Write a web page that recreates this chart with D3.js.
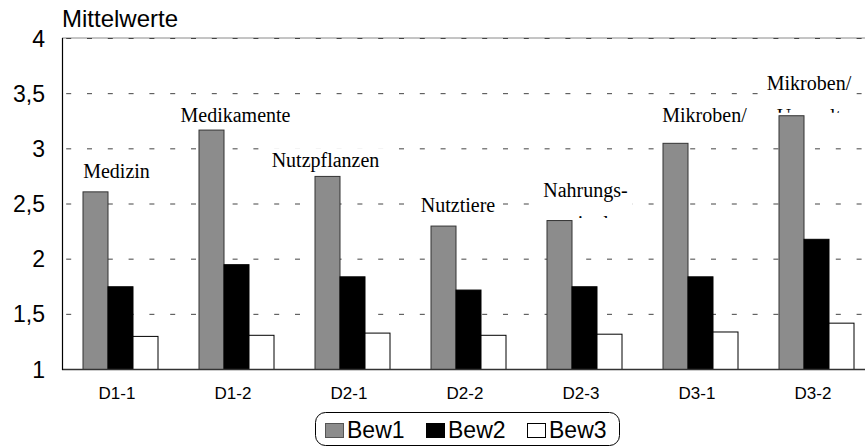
<!DOCTYPE html>
<meta charset="utf-8">
<head>
<style>
body { margin: 0; background: #fff; }
svg { display: block; font-family: Arial, "Liberation Sans", sans-serif; }
.grid line { stroke: #444; stroke-dasharray: 5 15.8; stroke-dashoffset: 16.6; }
.note text { font-family: "Liberation Serif", "Times New Roman", serif; font-size: 20px; fill: #000; }
</style>
</head>
<body>
<svg></svg>
<script src="https://cdnjs.cloudflare.com/ajax/libs/d3/7.8.5/d3.min.js"></script>
<script>
// data
var categories = ["D1-1", "D1-2", "D2-1", "D2-2", "D2-3", "D3-1", "D3-2"];
var seriesNames = ["Bew1", "Bew2", "Bew3"];
var bew1 = [2.61, 3.17, 2.75, 2.30, 2.35, 3.05, 3.30];
var bew2 = [1.75, 1.95, 1.84, 1.72, 1.75, 1.84, 2.18];
var bew3 = [1.30, 1.31, 1.33, 1.31, 1.32, 1.34, 1.42];
var yTicks = [1, 1.5, 2, 2.5, 3, 3.5, 4];

// text boxes above the groups (second lines are mostly cut off in the original)
var noteLines = [["Medizin"], ["Medikamente"], ["Nutzpflanzen"], ["Nutztiere"],
                 ["Nahrungs-", "mittel"], ["Mikroben/", "Pflanzen"], ["Mikroben/", "Umwelt"]];
var noteAt = [2.73, 3.24, 2.83, 2.42, 2.56, 3.24, 3.53];
var noteShift = [-3.5, -0.5, -26.5, -10, 1.5, 4.5, -7];
var noteCut = [6, 6, 6, 6, 21, 12, 23];

var width = 865, height = 447;
var svg = d3.select('svg').attr('width', width).attr('height', height);

var x = d3.scaleBand().domain(categories).range([62, 62 + 7 * 116]);
var x1 = d3.scaleBand().domain(seriesNames).range([0, 75]);
var y = d3.scaleLinear().domain([1, 4]).range([369, 38]);
var fmt = function (v) { return String(v).replace('.', ','); };

var fills = { Bew1: '#8c8c8c', Bew2: '#000', Bew3: '#fff' };
var strokes = { Bew1: '#333', Bew2: '#000', Bew3: '#000' };

var clip = svg.append('defs').append('clipPath').attr('id', 'plotclip')
  .append('rect').attr('x', 0).attr('y', 0).attr('width', width).attr('height', height);

// grid
svg.append('line').attr('x1', 62).attr('x2', width).attr('y1', y(4)).attr('y2', y(4))
  .attr('stroke', '#8a8a8a').attr('stroke-width', 1);
svg.append('g').attr('class', 'grid').selectAll('line')
  .data(yTicks).enter().append('line')
  .attr('x1', 62).attr('x2', width)
  .attr('y1', function (d) { return y(d) + 0.5; })
  .attr('y2', function (d) { return y(d) + 0.5; });

// bars
var rows = [bew1, bew2, bew3];
var bars = [];
categories.forEach(function (c, i) {
  seriesNames.forEach(function (s, j) {
    bars.push({ cat: c, series: s, value: rows[j][i] });
  });
});
svg.append('g').selectAll('rect')
  .data(bars).enter().append('rect')
  .attr('x', function (d) { return x(d.cat) + 20.5 + x1(d.series) + 0.5; })
  .attr('y', function (d) { return y(d.value) + 0.5; })
  .attr('width', x1.bandwidth())
  .attr('height', function (d) { return y(1) - y(d.value); })
  .attr('fill', function (d) { return fills[d.series]; })
  .attr('stroke', function (d) { return strokes[d.series]; })
  .attr('stroke-width', 1);

// axes lines
svg.append('line').attr('x1', 62).attr('x2', width).attr('y1', y(1) + 0.5).attr('y2', y(1) + 0.5)
  .attr('stroke', '#333').attr('stroke-width', 1.5);
svg.append('line').attr('x1', 62.5).attr('x2', 62.5).attr('y1', y(4)).attr('y2', y(1) + 1)
  .attr('stroke', '#000').attr('stroke-width', 1.2);

// y tick labels
svg.append('g').selectAll('text')
  .data(yTicks).enter().append('text')
  .attr('x', 45).attr('y', function (d) { return y(d) + 8.5; })
  .attr('text-anchor', 'end').attr('font-size', 23)
  .text(fmt);

svg.append('text').attr('x', 62).attr('y', 27).attr('font-size', 24).text('Mittelwerte');

// x labels
svg.append('g').selectAll('text')
  .data(categories).enter().append('text')
  .attr('x', function (d) { return x(d) + x.bandwidth() / 2 - 3; })
  .attr('y', 399)
  .attr('text-anchor', 'middle').attr('font-size', 17)
  .text(function (d) { return d; });

// notes
var notes = svg.append('g').attr('class', 'note');
categories.forEach(function (c, i) {
  var cx = x(c) + x.bandwidth() / 2 + noteShift[i];
  var base = y(noteAt[i]);
  var g = notes.append('g');
  var t = g.append('text').attr('x', cx).attr('y', base).attr('text-anchor', 'middle')
    .text(noteLines[i][0]);
  var w = t.node().getComputedTextLength();
  var top = base - 19, bottom = base + noteCut[i];
  var id = 'note' + i;
  svg.select('defs').append('clipPath').attr('id', id)
    .append('rect').attr('x', cx - w / 2 - 5).attr('y', top)
    .attr('width', w + 10).attr('height', bottom - top);
  g.insert('rect', 'text').attr('x', cx - w / 2 - 5).attr('y', top)
    .attr('width', w + 10).attr('height', bottom - top).attr('fill', '#fff');
  if (noteLines[i].length > 1) {
    g.append('text').attr('x', cx).attr('y', base + 33).attr('text-anchor', 'middle')
      .attr('clip-path', 'url(#' + id + ')')
      .text(noteLines[i][1]);
  }
});

// legend
var leg = svg.append('g');
leg.append('rect').attr('x', 315.5).attr('y', 412.5).attr('width', 304).attr('height', 33)
  .attr('rx', 10).attr('fill', '#fff').attr('stroke', '#000').attr('stroke-width', 1);
seriesNames.forEach(function (s, i) {
  var lx = 325 + i * 101;
  leg.append('rect').attr('x', lx + 0.5).attr('y', 423.5).attr('width', 18).attr('height', 14)
    .attr('fill', fills[s]).attr('stroke', s === 'Bew1' ? '#555' : '#000');
  leg.append('text').attr('x', lx + 22).attr('y', 438).attr('font-size', 23).text(s);
});
</script>
</body>
</html>
